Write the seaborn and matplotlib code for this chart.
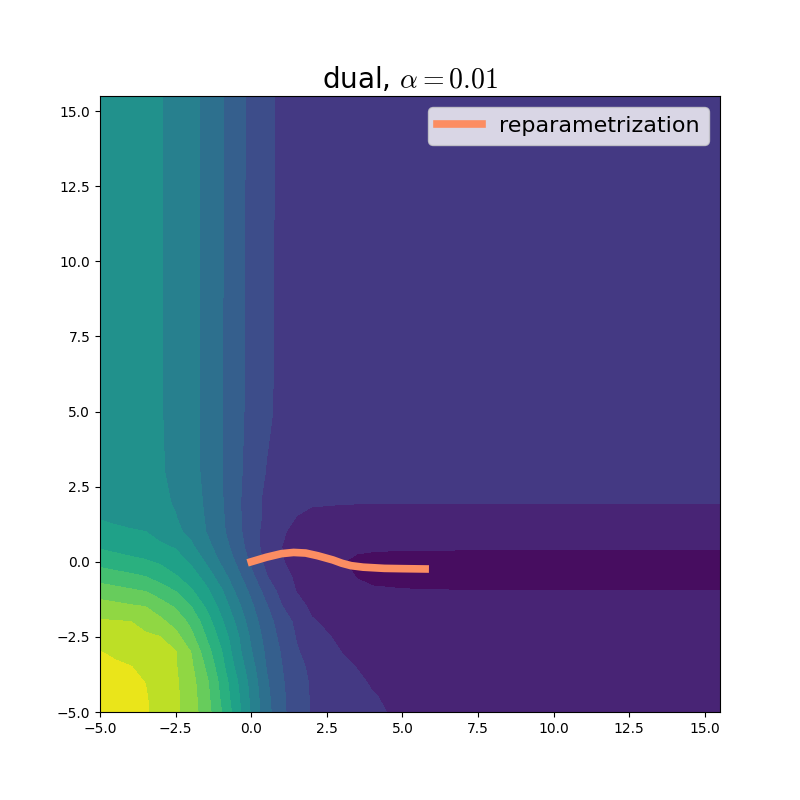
import numpy as np
import pandas as pd
import seaborn as sns
import matplotlib
matplotlib.use("Agg")
import matplotlib.pyplot as plt

plt.rcParams["mathtext.fontset"] = "cm"

# grid nodes of the dual objective
x_nodes = [-5, -4.5, -4, -3.5, -3, -2.5, -2, -1.5, -1, -0.5, 0, 0.5, 1, 1.5, 2, 3, 3.5, 4, 5, 7, 10, 15.5]
y_nodes = [-5, -4.5, -4, -3.5, -3, -2.5, -2, -1.5, -1, -0.5, 0, 0.5, 1, 1.5, 2, 3, 5, 15.5]

# one row per y node, one value per x node
dual_values = [
    [14.7, 14.52, 14.29, 14.09, 13.71, 13.2, 12.48, 11.49, 10.06, 8.52, 6.88, 5.36, 4.24, 3.45, 2.93, 2.55, 2.37, 2.18, 1.8, 1.72, 1.68, 1.66],
    [14.55, 14.39, 14.22, 14.06, 13.68, 13.19, 12.44, 11.38, 9.88, 8.35, 6.76, 5.26, 4.2, 3.43, 2.91, 2.49, 2.28, 2.06, 1.76, 1.68, 1.65, 1.64],
    [14.4, 14.27, 14.13, 13.99, 13.57, 13.14, 12.38, 11.25, 9.71, 8.17, 6.63, 5.14, 4.13, 3.39, 2.89, 2.40, 2.16, 1.91, 1.72, 1.64, 1.62, 1.62],
    [14.22, 14.13, 14.03, 13.78, 13.43, 13.08, 12.21, 10.9, 9.39, 7.8, 6.35, 4.96, 4.04, 3.26, 2.81, 2.24, 1.97, 1.8, 1.66, 1.6, 1.58, 1.58],
    [14.02, 13.86, 13.65, 13.44, 13.24, 13.03, 12.0, 10.48, 9.11, 7.47, 6.06, 4.82, 3.92, 3.08, 2.68, 1.98, 1.82, 1.7, 1.6, 1.56, 1.55, 1.55],
    [13.57, 13.43, 13.29, 13.15, 13.01, 12.33, 11.31, 10.0, 8.68, 7.28, 5.81, 4.63, 3.73, 2.94, 2.5, 1.72, 1.61, 1.52, 1.48, 1.47, 1.47, 1.47],
    [13.12, 13.07, 13.02, 12.69, 12.24, 11.63, 10.77, 9.54, 8.19, 6.86, 5.5, 4.42, 3.52, 2.78, 2.1, 1.6, 1.51, 1.45, 1.42, 1.4, 1.4, 1.4],
    [12.42, 12.28, 12.14, 12.01, 11.47, 10.9, 10.05, 8.9, 7.7, 6.39, 5.18, 4.11, 3.06, 2.42, 1.8, 1.4, 1.34, 1.3, 1.27, 1.25, 1.25, 1.25],
    [11.56, 11.38, 11.2, 11.02, 10.54, 10.02, 9.19, 8.29, 7.19, 5.89, 4.78, 3.65, 2.69, 1.98, 1.55, 1.2, 1.14, 1.1, 1.06, 1.03, 1.02, 1.02],
    [10.58, 10.39, 10.21, 10.02, 9.58, 9.1, 8.47, 7.65, 6.48, 5.38, 4.27, 3.07, 2.3, 1.86, 1.64, 1.19, 0.98, 0.85, 0.76, 0.72, 0.72, 0.72],
    [9.64, 9.47, 9.29, 9.12, 8.85, 8.4, 7.88, 6.9, 5.87, 4.91, 3.81, 2.73, 2.05, 1.77, 1.53, 1.03, 0.86, 0.8, 0.78, 0.78, 0.78, 0.78],
    [8.87, 8.69, 8.51, 8.34, 8.16, 7.92, 7.21, 6.36, 5.5, 4.6, 3.5, 2.63, 2.01, 1.6, 1.35, 1.15, 1.13, 1.1, 1.07, 1.06, 1.06, 1.06],
    [8.35, 8.24, 8.12, 8.01, 7.64, 7.24, 6.71, 6.0, 5.25, 4.37, 3.4, 2.68, 2.13, 1.72, 1.55, 1.47, 1.45, 1.44, 1.42, 1.42, 1.42, 1.42],
    [7.9, 7.73, 7.55, 7.38, 7.21, 7.03, 6.53, 5.93, 5.19, 4.29, 3.42, 2.8, 2.4, 1.99, 1.85, 1.78, 1.77, 1.76, 1.75, 1.75, 1.75, 1.75],
    [7.75, 7.63, 7.5, 7.35, 7.2, 6.9, 6.41, 5.88, 5.12, 4.24, 3.46, 2.75, 2.35, 2.15, 2.08, 2.05, 2.04, 2.04, 2.04, 2.04, 2.04, 2.04],
    [7.55, 7.45, 7.35, 7.22, 7.1, 6.74, 6.31, 5.8, 5.1, 4.28, 3.59, 2.96, 2.6, 2.45, 2.38, 2.34, 2.33, 2.32, 2.3, 2.3, 2.3, 2.3],
    [7.4, 7.32, 7.25, 7.15, 7.05, 6.71, 6.29, 5.79, 5.1, 4.34, 3.69, 3.19, 2.75, 2.62, 2.55, 2.5, 2.48, 2.47, 2.45, 2.45, 2.45, 2.45],
    [7.35, 7.28, 7.2, 7.12, 7.05, 6.71, 6.29, 5.78, 5.1, 4.38, 3.76, 3.25, 2.8, 2.7, 2.62, 2.56, 2.54, 2.53, 2.5, 2.5, 2.5, 2.5],
]
levels = list(range(16))

# optimisation path
path_x = [0.0, 0.5, 1.0, 1.4, 1.8, 2.2, 2.7, 3.0, 3.3, 3.7, 4.4, 5.0, 5.75]
path_y = [0.0, 0.15, 0.27, 0.31, 0.29, 0.2, 0.06, -0.05, -0.13, -0.18, -0.22, -0.23, -0.24]
path_color = "#fc8d62"

df = pd.DataFrame({"x": path_x, "y": path_y})

fig, ax = plt.subplots(figsize=(8, 8), dpi=100)
X, Y = np.meshgrid(x_nodes, y_nodes)
ax.contourf(X, Y, np.array(dual_values), levels=levels, cmap="viridis", vmin=0, vmax=15)

sns.lineplot(data=df, x="x", y="y", sort=False, estimator=None, color=path_color,
             linewidth=5.5, label="reparametrization", ax=ax)

ax.set_xlabel("")
ax.set_ylabel("")
ax.set_title(r"dual, $\alpha = 0.01$", fontsize=20)
ax.legend(loc="upper right", fontsize=16)

fig.savefig("out.png", dpi=100)
